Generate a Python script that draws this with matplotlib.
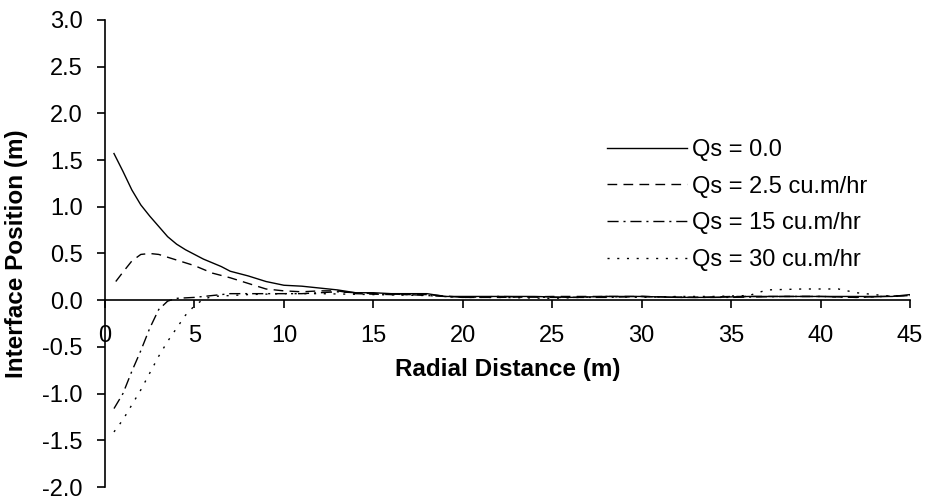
import matplotlib
matplotlib.use("Agg")
import matplotlib.pyplot as plt

# data
x_q0 = [0.5, 1, 1.5, 2, 2.5, 3, 3.5, 4, 4.5, 5, 5.5, 6, 6.5, 7, 8, 9, 10, 11, 12, 13, 14, 15, 16, 17, 18, 19,
        20, 22, 24, 26, 28, 30, 32, 34, 36, 38, 40, 42, 44, 45]
y_q0 = [1.57, 1.38, 1.18, 1.02, 0.90, 0.79, 0.68, 0.60, 0.54, 0.49, 0.44, 0.40, 0.36, 0.31, 0.26, 0.20, 0.16, 0.15, 0.13, 0.11, 0.08, 0.08, 0.07, 0.07, 0.07, 0.04,
        0.04, 0.04, 0.04, 0.03, 0.04, 0.04, 0.03, 0.03, 0.04, 0.04, 0.04, 0.04, 0.04, 0.06]

x_q25 = [0.6, 1, 1.5, 2, 2.5, 3, 3.5, 4, 5, 6, 7, 8, 9, 10, 11, 12, 13, 14, 16, 18, 20, 22, 25, 28, 30, 33, 35, 38, 40, 42, 45]
y_q25 = [0.20, 0.30, 0.42, 0.49, 0.50, 0.49, 0.46, 0.43, 0.37, 0.29, 0.24, 0.18, 0.12, 0.10, 0.09, 0.10, 0.10, 0.07, 0.06, 0.06, 0.03, 0.03, 0.04, 0.04, 0.04, 0.03, 0.04, 0.04, 0.04, 0.03, 0.05]

x_q15 = [0.5, 1, 1.5, 2, 2.5, 3, 3.5, 4, 5, 6, 7, 8, 9, 10, 11, 12, 13, 15, 17, 19, 20, 22, 25, 28, 30, 32, 35, 38, 40, 42, 45]
y_q15 = [-1.16, -1.00, -0.76, -0.54, -0.30, -0.10, -0.01, 0.02, 0.03, 0.05, 0.07, 0.07, 0.07, 0.07, 0.07, 0.08, 0.09, 0.07, 0.06, 0.04, 0.03, 0.04, 0.03, 0.03, 0.04, 0.03, 0.03, 0.04, 0.04, 0.03, 0.05]

x_q30 = [0.5, 1, 1.5, 2, 2.5, 3, 3.5, 4, 4.5, 5, 5.5, 6, 7, 8, 10, 12, 15, 18, 20, 22, 25, 28, 30, 32, 34, 36, 37, 39, 41, 42, 44, 45]
y_q30 = [-1.41, -1.28, -1.12, -0.96, -0.78, -0.60, -0.44, -0.30, -0.16, -0.06, 0.01, 0.04, 0.05, 0.06, 0.07, 0.07, 0.06, 0.05, 0.03, 0.03, 0.02, 0.04, 0.03, 0.04, 0.04, 0.05, 0.11, 0.12, 0.12, 0.08, 0.04, 0.05]

labels = ["Qs = 0.0", "Qs = 2.5 cu.m/hr", "Qs = 15 cu.m/hr", "Qs = 30 cu.m/hr"]
x_ticks = [0, 5, 10, 15, 20, 25, 30, 35, 40, 45]
y_ticks = [-2.0, -1.5, -1.0, -0.5, 0.0, 0.5, 1.0, 1.5, 2.0, 2.5, 3.0]

plt.rcParams['font.family'] = ['Liberation Sans', 'DejaVu Sans']

fig = plt.figure(figsize=(9.32, 4.99), dpi=100)
ax = fig.add_axes([0.1127, 0.024, 0.8637, 0.936])

lw = 1.0
ax.plot(x_q0, y_q0, color='black', lw=lw, linestyle='-', label=labels[0])
ax.plot(x_q25, y_q25, color='black', lw=lw, linestyle=(0, (7, 4.5)), label=labels[1])
ax.plot(x_q15, y_q15, color='black', lw=lw, linestyle=(0, (8, 3.5, 1.5, 3.5)), label=labels[2])
ax.plot(x_q30, y_q30, color='black', lw=lw, linestyle=(0, (1.5, 5.5)), label=labels[3])

ax.set_xlim(0, 45)
ax.set_ylim(-2.0, 3.0)
ax.set_xticks(x_ticks)
ax.set_xticklabels([str(t) for t in x_ticks])
ax.set_yticks(y_ticks)
ax.set_yticklabels(["%.1f" % t for t in y_ticks])

ax.spines['top'].set_visible(False)
ax.spines['right'].set_visible(False)
ax.spines['bottom'].set_position(('data', 0))
for s in ['left', 'bottom']:
    ax.spines[s].set_linewidth(1.2)

ax.tick_params(axis='both', direction='out', length=6, width=1.2, labelsize=17, colors='black')
ax.tick_params(axis='x', pad=12)
ax.tick_params(axis='y', pad=10)

ax.set_xlabel("Radial Distance (m)", fontsize=17.5, fontweight='bold', labelpad=8)
ax.set_ylabel("Interface Position (m)", fontsize=17.5, fontweight='bold', labelpad=10)

ax.legend(loc='upper left', bbox_to_anchor=(0.6236, 0.745), frameon=False, fontsize=17,
          handlelength=3.4, handletextpad=0.2, labelspacing=0.62, borderaxespad=0, borderpad=0)

fig.savefig("out.png", dpi=100)
